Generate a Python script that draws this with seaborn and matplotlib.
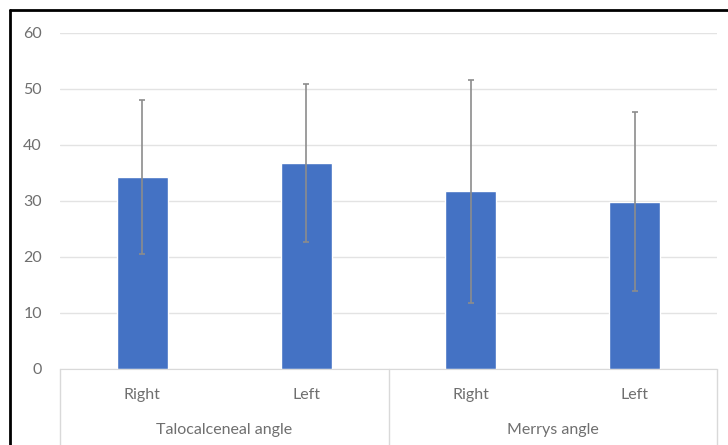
import matplotlib
matplotlib.use('Agg')
import matplotlib.pyplot as plt
import pandas as pd
import seaborn as sns

# data
groups = ['Talocalceneal angle', 'Talocalceneal angle', 'Merrys angle', 'Merrys angle']
sides = ['Right', 'Left', 'Right', 'Left']
means = [34.3, 36.8, 31.7, 29.9]
sds = [13.7, 14.1, 19.9, 16.0]
yticks = [0, 10, 20, 30, 40, 50, 60]

df = pd.DataFrame({'group': groups, 'side': sides, 'mean': means, 'sd': sds})
df['key'] = df['group'] + ' ' + df['side']

sns.set_style('white')
plt.rcParams['font.family'] = ['Lato', 'DejaVu Sans']
txt = '#6f6f6f'

fig = plt.figure(figsize=(7.28, 4.45), dpi=100)
ax = fig.add_axes([60 / 728, 76 / 445, 657 / 728, 336 / 445])

sns.barplot(data=df, x='key', y='mean', color='#4472C4', saturation=1,
            width=0.31, errorbar=None, ax=ax, zorder=2)
ax.errorbar(range(len(df)), df['mean'], yerr=df['sd'], fmt='none',
            ecolor='#8c8c8c', elinewidth=1.2, capsize=2.5, capthick=1.2, zorder=3)

ax.set_ylim(0, 60)
ax.set_xlim(-0.5, len(df) - 0.5)
ax.set_yticks(yticks)
ax.set_yticklabels([str(v) for v in yticks], color=txt, fontsize=11.5)
ax.tick_params(axis='y', length=0, pad=13)
ax.yaxis.grid(True, color='#e3e3e3', linewidth=1)
ax.set_axisbelow(True)
for s in ['top', 'right', 'left']:
    ax.spines[s].set_visible(False)
ax.spines['bottom'].set_color('#d9d9d9')
ax.set_xlabel('')
ax.set_ylabel('')

# two-level category axis
ax.set_xticks(range(len(df)))
ax.set_xticklabels(df['side'], color=txt, fontsize=11.5)
ax.tick_params(axis='x', length=0, pad=14)
trans = ax.get_xaxis_transform()
for x in [-0.5, 1.5, 3.5]:
    ax.plot([x, x], [0, -0.25], transform=trans, color='#d9d9d9',
            linewidth=1, clip_on=False)
for name in df['group'].unique():
    pos = df.index[df['group'] == name]
    ax.text(pos.to_numpy().mean(), -61 / 336, name, transform=trans,
            ha='center', va='center', color=txt, fontsize=11.5)

# outer black frame of the screenshot
fig.add_artist(plt.Line2D([10 / 728, 10 / 728], [0, 1 - 10 / 445],
                          transform=fig.transFigure, color='black', linewidth=2))
fig.add_artist(plt.Line2D([10 / 728, 1], [1 - 10 / 445, 1 - 10 / 445],
                          transform=fig.transFigure, color='black', linewidth=2))

fig.savefig('out.png', dpi=100)
